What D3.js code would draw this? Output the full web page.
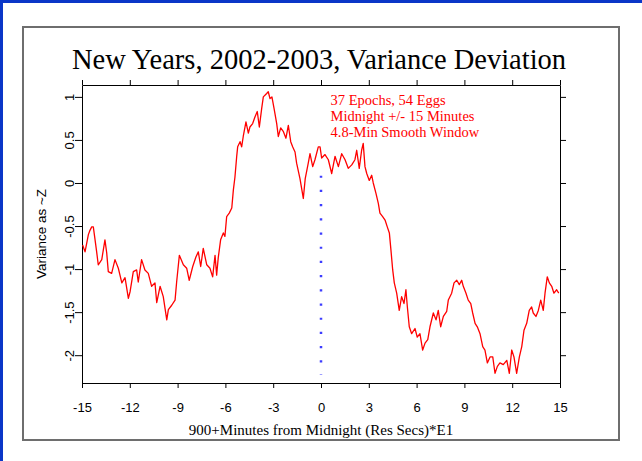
<!DOCTYPE html>
<html>
<head>
<meta charset="utf-8">
<script src="https://cdn.jsdelivr.net/npm/d3@7"></script>
<style>
  body { margin: 0; background: #fff; }
  svg { display: block; }
</style>
</head>
<body>
<div id="graphContainer"></div>
<script>
// minutes from midnight
const minutes = [
  -14.96, -14.81, -14.6, -14.5, -14.39, -14.29, -14.18, -14.08, -13.98, -13.76,
  -13.56, -13.45, -13.35, -13.14, -12.93, -12.72, -12.5, -12.3, -12.09, -11.98,
  -11.78, -11.57, -11.47, -11.26, -11.05, -10.84, -10.63, -10.42, -10.31, -10.1,
  -9.9, -9.68, -9.58, -9.37, -9.16, -9.06, -8.89, -8.64, -8.43, -8.27,
  -8.05, -7.85, -7.7, -7.55, -7.39, -7.17, -6.97, -6.8, -6.65, -6.55,
  -6.45, -6.3, -6.13, -6.03, -5.92, -5.76, -5.6, -5.5, -5.4, -5.29,
  -5.23, -5.08, -4.98, -4.88, -4.71, -4.56, -4.46, -4.29, -4.14, -4.0,
  -3.87, -3.72, -3.62, -3.41, -3.31, -3.2, -3.08, -2.95, -2.78, -2.68,
  -2.53, -2.37, -2.2, -2.05, -1.9, -1.78, -1.63, -1.53, -1.32, -1.11,
  -0.99, -0.8, -0.69, -0.52, -0.38, -0.17, -0.06, 0.04, 0.25, 0.46,
  0.67, 0.88, 1.09, 1.3, 1.51, 1.71, 1.93, 2.13, 2.24, 2.4,
  2.55, 2.65, 2.76, 2.87, 3.03, 3.18, 3.28, 3.45, 3.6, 3.7,
  3.87, 4.02, 4.16, 4.29, 4.39, 4.5, 4.6, 4.75, 4.91, 5.06,
  5.21, 5.33, 5.42, 5.54, 5.69, 5.9, 6.04, 6.21, 6.38, 6.53,
  6.7, 6.84, 7.05, 7.22, 7.36, 7.51, 7.68, 7.89, 7.99, 8.2,
  8.35, 8.52, 8.68, 8.83, 8.93, 9.1, 9.24, 9.4, 9.52, 9.67,
  9.81, 9.98, 10.15, 10.29, 10.44, 10.61, 10.78, 10.92, 11.07, 11.23,
  11.44, 11.66, 11.82, 11.97, 12.11, 12.28, 12.45, 12.6, 12.74, 12.91,
  13.07, 13.22, 13.32, 13.49, 13.64, 13.79, 13.95, 14.06, 14.2, 14.33,
  14.48, 14.62, 14.79, 14.92,
];

// variance as ~Z at each of those minutes
const variance = [
  -0.72, -0.8, -0.6, -0.55, -0.51, -0.51, -0.66, -0.8, -0.95, -0.89,
  -0.66, -0.81, -1.03, -1.05, -0.89, -0.99, -1.16, -1.1, -1.34, -1.26,
  -1.03, -1.01, -1.15, -0.89, -1.01, -1.05, -1.2, -1.16, -1.39, -1.2,
  -1.32, -1.59, -1.47, -1.42, -1.36, -1.15, -0.84, -0.95, -0.99, -1.13,
  -0.97, -0.86, -0.8, -0.97, -0.76, -0.95, -0.99, -1.09, -0.84, -1.07,
  -0.87, -0.66, -0.58, -0.62, -0.39, -0.35, -0.29, -0.08, 0.07, 0.31,
  0.42, 0.48, 0.42, 0.54, 0.71, 0.58, 0.65, 0.69, 0.77, 0.83,
  0.65, 0.87, 1.0, 1.04, 1.06, 0.98, 1.0, 0.87, 0.69, 0.54,
  0.64, 0.6, 0.52, 0.67, 0.48, 0.42, 0.36, 0.23, 0.05, -0.18,
  0.05, 0.23, 0.34, 0.19, 0.27, 0.42, 0.42, 0.29, 0.33, 0.27,
  0.11, 0.31, 0.19, 0.34, 0.27, 0.17, 0.21, 0.27, 0.38, 0.17,
  0.38, 0.46, 0.19, 0.11, 0.03, 0.09, 0.0, -0.12, -0.24, -0.35,
  -0.39, -0.43, -0.51, -0.58, -0.78, -1.01, -1.16, -1.28, -1.48, -1.32,
  -1.4, -1.24, -1.44, -1.67, -1.75, -1.69, -1.79, -1.75, -1.94, -1.86,
  -1.82, -1.67, -1.51, -1.59, -1.48, -1.67, -1.55, -1.49, -1.36, -1.28,
  -1.16, -1.13, -1.18, -1.13, -1.2, -1.28, -1.36, -1.4, -1.51, -1.63,
  -1.67, -1.75, -1.9, -1.94, -2.09, -2.02, -2.02, -2.21, -2.13, -2.09,
  -2.11, -2.06, -2.21, -1.94, -2.02, -2.21, -2.02, -1.9, -1.71, -1.63,
  -1.48, -1.44, -1.51, -1.55, -1.48, -1.36, -1.48, -1.28, -1.09, -1.16,
  -1.2, -1.28, -1.24, -1.28,
];

const xTicks = [-15, -12, -9, -6, -3, 0, 3, 6, 9, 12, 15];
const yTicks = [1, 0.5, 0, -0.5, -1, -1.5, -2];

// midnight marker: x position and the span of the dotted line
const markerX = [0];
const markerSpan = [0.085, -2.23];

const titleText = "New Years, 2002-2003, Variance Deviation";
const xLabel = "900+Minutes from Midnight (Res Secs)*E1";
const yLabel = "Variance as ~Z";
const noteLines = [
  "37 Epochs, 54 Eggs",
  "Midnight +/- 15 Minutes",
  "4.8-Min Smooth Window",
];

// hyphen instead of the unicode minus, like the original
const fmt = (d) => String(d);

graph = () => {
  const W = 642, H = 461;
  const margin = { top: 85, right: 82, bottom: 78, left: 82 },
    width = W - margin.left - margin.right,
    height = H - margin.top - margin.bottom;

  const root = d3
    .select("#graphContainer")
    .append("svg")
    .attr("width", W)
    .attr("height", H);

  // blue page border (top and left only)
  root.append("rect").attr("x", 0).attr("y", 0).attr("width", W).attr("height", 3).attr("fill", "#0a36c8");
  root.append("rect").attr("x", 0).attr("y", 0).attr("width", 3).attr("height", H).attr("fill", "#0a36c8");

  // grey frame round the chart
  root
    .append("rect")
    .attr("x", 23)
    .attr("y", 27)
    .attr("width", 596)
    .attr("height", 413)
    .attr("fill", "none")
    .attr("stroke", "#6e6e6e")
    .attr("stroke-width", 2);

  root
    .append("text")
    .attr("x", 319)
    .attr("y", 69)
    .attr("text-anchor", "middle")
    .style("font-family", "'Liberation Serif', 'Times New Roman', serif")
    .style("font-size", "28.5px")
    .text(titleText);

  const svg = root
    .append("g")
    .attr("transform", "translate(" + margin.left + "," + margin.top + ")");

  const x = d3.scaleLinear().domain([-15, 15]).range([0, width]);
  const y = d3.scaleLinear().domain([-2.323, 1.138]).range([height, 0]);

  const tickFont = (g) =>
    g
      .selectAll(".tick text")
      .style("font-family", "'Liberation Sans', Arial, sans-serif")
      .style("font-size", "13px")
      .attr("fill", "#000");

  // bottom axis with labels
  svg
    .append("g")
    .attr("transform", "translate(0," + height + ")")
    .call(d3.axisBottom(x).tickValues(xTicks).tickFormat(fmt).tickSize(5).tickSizeOuter(0).tickPadding(15))
    .call(tickFont);

  // top axis, ticks only
  svg
    .append("g")
    .call(d3.axisTop(x).tickValues(xTicks).tickSize(5).tickSizeOuter(0).tickFormat(""));

  // left axis, labels turned on their side
  svg
    .append("g")
    .call(d3.axisLeft(y).tickValues(yTicks).tickFormat(fmt).tickSize(7).tickSizeOuter(0))
    .call(tickFont)
    .call((g) =>
      g
        .selectAll(".tick text")
        .attr("x", 0)
        .attr("y", 0)
        .attr("dy", 0)
        .attr("text-anchor", "middle")
        .attr("transform", "translate(-8,0) rotate(-90)")
    );

  // right axis, ticks only
  svg
    .append("g")
    .attr("transform", "translate(" + width + ",0)")
    .call(d3.axisRight(y).tickValues(yTicks).tickSize(6).tickSizeOuter(0).tickFormat(""));

  svg.selectAll(".domain").attr("stroke", "#000");
  svg.selectAll(".tick line").attr("stroke", "#000");

  // dotted midnight marker
  svg
    .append("g")
    .selectAll("line")
    .data(markerX)
    .join("line")
    .attr("x1", (d) => x(d))
    .attr("x2", (d) => x(d))
    .attr("y1", y(markerSpan[0]))
    .attr("y2", y(markerSpan[1]))
    .attr("stroke", "#3c3cff")
    .attr("stroke-width", 2.5)
    .attr("stroke-dasharray", "2.2,12");

  const line = d3
    .line()
    .x((d) => x(d[0]))
    .y((d) => y(d[1]));

  svg
    .append("path")
    .datum(d3.zip(minutes, variance))
    .attr("fill", "none")
    .attr("stroke", "#ff0000")
    .attr("stroke-width", 1.3)
    .attr("stroke-linejoin", "round")
    .attr("d", line);

  // red note in the top middle
  svg
    .append("g")
    .selectAll("text")
    .data(noteLines)
    .join("text")
    .attr("x", x(0.6))
    .attr("y", (d, i) => 20 + 16 * i)
    .attr("fill", "#ff0000")
    .style("font-family", "'Liberation Serif', 'Times New Roman', serif")
    .style("font-size", "14.5px")
    .text((d) => d);

  // axis titles
  root
    .append("text")
    .attr("x", 321)
    .attr("y", 435)
    .attr("text-anchor", "middle")
    .style("font-family", "'Liberation Serif', 'Times New Roman', serif")
    .style("font-size", "15px")
    .text(xLabel);

  root
    .append("text")
    .attr("transform", "translate(46," + (margin.top + height / 2) + ") rotate(-90)")
    .attr("text-anchor", "middle")
    .style("font-family", "'Liberation Sans', Arial, sans-serif")
    .style("font-size", "13.5px")
    .text(yLabel);
};

graph();
</script>
</body>
</html>
